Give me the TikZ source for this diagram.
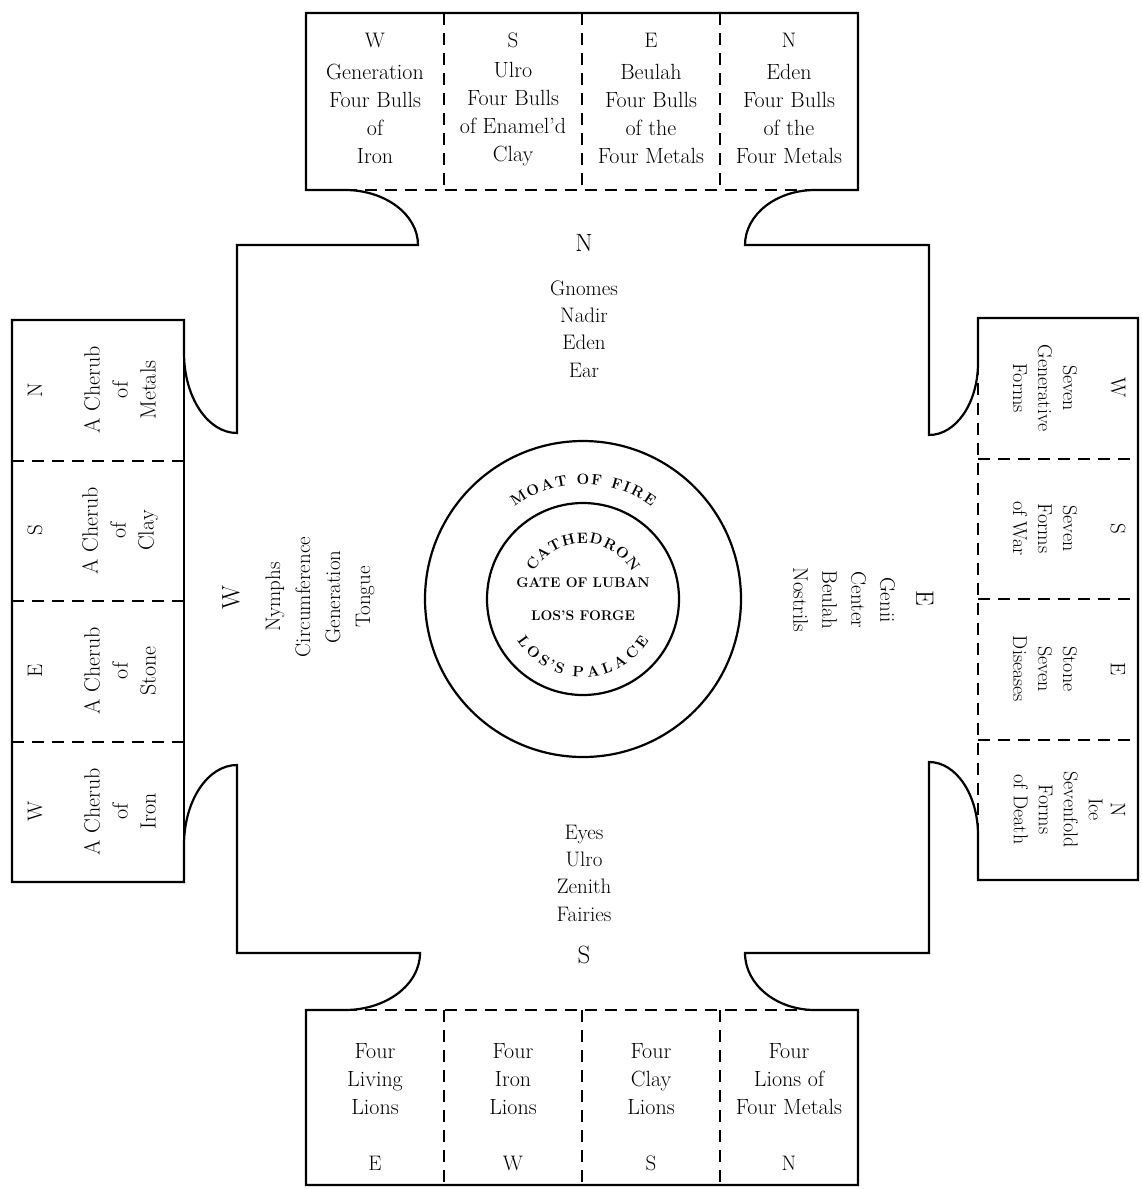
\documentclass[tikz,border=0pt]{standalone}
\usetikzlibrary{calc}
\begin{document}
\begin{tikzpicture}[x=1pt,y=-1pt,
  outline/.style={line width=2.2pt, line join=miter},
  dline/.style={line width=2pt, dash pattern=on 12pt off 8pt},
  txt/.style={font=\fontsize{22}{28}\selectfont, align=center, inner sep=0pt},
  rtxt/.style={font=\fontsize{20}{25}\selectfont, align=center, inner sep=0pt},
  mtxt/.style={font=\fontsize{21}{27.3}\selectfont, align=center, inner sep=0pt},
  dir/.style={font=\fontsize{21}{24}\selectfont, inner sep=0pt},
  bigdir/.style={font=\fontsize{25}{28}\selectfont, inner sep=0pt},
  ctr/.style={font=\fontsize{14}{16}\selectfont\bfseries, inner sep=0pt},
  arcl/.style={font=\fontsize{15}{16}\selectfont\bfseries, inner sep=0pt, anchor=base}]
\fill[white] (0,0) rectangle (1142,1189);
\useasboundingbox (0,0) rectangle (1142,1189);

% ---------- main outline ----------
\draw[outline]
  (237,433) -- (237,245) -- (418,245)
  .. controls (418,214.6) and (385.3,190) .. (345,190)
  -- (306,190) -- (306,13) -- (858,13) -- (858,190) -- (815,190)
  .. controls (776.3,190) and (745,214.6) .. (745,245)
  -- (929,245) -- (929,435)
  .. controls (956.1,435) and (978,402.8) .. (978,363)
  -- (978,318) -- (1138,318) -- (1138,880) -- (978,880) -- (978,835)
  .. controls (978,794.7) and (956.1,762) .. (929,762)
  -- (929,953) -- (745,953)
  .. controls (745,984.5) and (776.3,1010) .. (815,1010)
  -- (858,1010) -- (858,1185) -- (306,1185) -- (306,1010) -- (345,1010)
  .. controls (386.4,1010) and (420,984.5) .. (420,953)
  -- (237,953) -- (237,765)
  .. controls (207.7,765) and (184,800.8) .. (184,845)
  -- (184,882) -- (12,882) -- (12,320) -- (184,320) -- (184,353)
  .. controls (184,397.2) and (207.7,433) .. (237,433) -- cycle;
\draw[outline] (184,353) -- (184,845);

% ---------- dashed edges and dividers ----------
\draw[dline] (345,190) -- (815,190);
\draw[dline] (345,1010) -- (815,1010);
\draw[dline] (978,363) -- (978,835);
\foreach \x in {444,582,720} {
  \draw[dline] (\x,13) -- (\x,190);
  \draw[dline] (\x,1010) -- (\x,1185);
}
\foreach \y in {460.5,601,741.5} \draw[dline] (12,\y) -- (184,\y);
\foreach \y in {458.5,599,739.5} \draw[dline] (978,\y) -- (1138,\y);

% ---------- top box ----------
\node[dir] (tl1) at (375,40) {W};
\node[dir] (tl2) at (513,40) {S};
\node[dir] (tl3) at (651,40) {E};
\node[dir] (tl4) at (789,40) {N};
\node[txt] (tt1) at (375,114) {Generation\\Four Bulls\\of\\Iron};
\node[txt] (tt2) at (513,114) {Ulro\\Four Bulls\\of Enamel'd\\Clay};
\node[txt] (tt3) at (651,114) {Beulah\\Four Bulls\\of the\\Four Metals};
\node[txt] (tt4) at (789,114) {Eden\\Four Bulls\\of the\\Four Metals};

% ---------- bottom box ----------
\node[txt] (bt1) at (375,1079) {Four\\Living\\Lions};
\node[txt] (bt2) at (513,1079) {Four\\Iron\\Lions};
\node[txt] (bt3) at (651,1079) {Four\\Clay\\Lions};
\node[txt] (bt4) at (789,1079) {Four\\Lions of\\Four Metals};
\node[dir] (bl1) at (375,1163) {E};
\node[dir] (bl2) at (513,1163) {W};
\node[dir] (bl3) at (651,1163) {S};
\node[dir] (bl4) at (789,1163) {N};

% ---------- left box ----------
\node[dir,rotate=90] (ll1) at (35,390) {N};
\node[dir,rotate=90] (ll2) at (35,530.5) {S};
\node[dir,rotate=90] (ll3) at (35,671) {E};
\node[dir,rotate=90] (ll4) at (35,811.5) {W};
\node[txt,rotate=90] (lt1) at (120,390) {A Cherub\\of\\Metals};
\node[txt,rotate=90] (lt2) at (120,530.5) {A Cherub\\of\\Clay};
\node[txt,rotate=90] (lt3) at (120,671) {A Cherub\\of\\Stone};
\node[txt,rotate=90] (lt4) at (120,811.5) {A Cherub\\of\\Iron};

% ---------- right box ----------
\node[dir,rotate=-90] (rl1) at (1118,388) {W};
\node[dir,rotate=-90] (rl2) at (1118,528.5) {S};
\node[dir,rotate=-90] (rl3) at (1118,669) {E};
\node[dir,rotate=-90] (rl4) at (1118,809.5) {N};
\node[rtxt,rotate=-90] (rt1) at (1045,388) {Seven\\Generative\\Forms};
\node[rtxt,rotate=-90] (rt2) at (1045,528.5) {Seven\\Forms\\of War};
\node[rtxt,rotate=-90] (rt3) at (1045,669) {Stone\\Seven\\Diseases};
\node[rtxt,rotate=-90] (rt4) at (1058,809.5) {Ice\\Sevenfold\\Forms\\of Death};

% ---------- main field ----------
\node[bigdir] (mN) at (584,243) {N};
\node[mtxt] (mNt) at (584,329) {Gnomes\\Nadir\\Eden\\Ear};
\node[mtxt] (mSt) at (584,873) {Eyes\\Ulro\\Zenith\\Fairies};
\node[bigdir] (mS) at (584,955) {S};
\node[bigdir,rotate=90] (mW) at (231,598) {W};
\node[mtxt,rotate=90,font=\fontsize{21}{30}\selectfont] (mWt) at (320,597) {Nymphs\\Circumference\\Generation\\Tongue};
\node[bigdir,rotate=-90] (mE) at (925,598) {E};
\node[mtxt,rotate=-90,font=\fontsize{21}{29}\selectfont] (mEt) at (844,600) {Genii\\Center\\Beulah\\Nostrils};

% ---------- circles ----------
\coordinate (c) at (583,599);
\draw[outline] (c) circle[radius=158pt];
\draw[outline] (c) circle[radius=96pt];
\foreach \ch/\a [count=\i] in {M/122.6,O/114.7,A/107.5,T/100.6,O/90.0,F/83.5,F/73.6,I/68.5,R/62.9,E/56.1}
  \node[arcl, rotate=\a-90] (moat\i) at ($(c)+(\a:115pt)$) {\ch};
\foreach \ch/\a [count=\i] in {C/145.1,A/131.3,T/117.8,H/104.0,E/90.6,D/77.4,R/63.4,O/49.6,N/35.4}
  \node[arcl, rotate=\a-90] (cath\i) at ($(c)+(\a:56pt)$) {\ch};
\foreach \ch/\a [count=\i] in {L/216.0,O/227.1,S/237.9,'/244.5,S/251.3,P/266.3,A/278.0,L/289.3,A/300.4,C/312.4,E/323.7}
  \node[arcl, rotate=\a-270] (pal\i) at ($(c)+(\a:78pt)$) {\ch};
\node[ctr] (gate) at (583,583) {GATE OF LUBAN};
\node[ctr] (forge) at (583,616) {LOS'S FORGE};
\end{tikzpicture}
\end{document}
